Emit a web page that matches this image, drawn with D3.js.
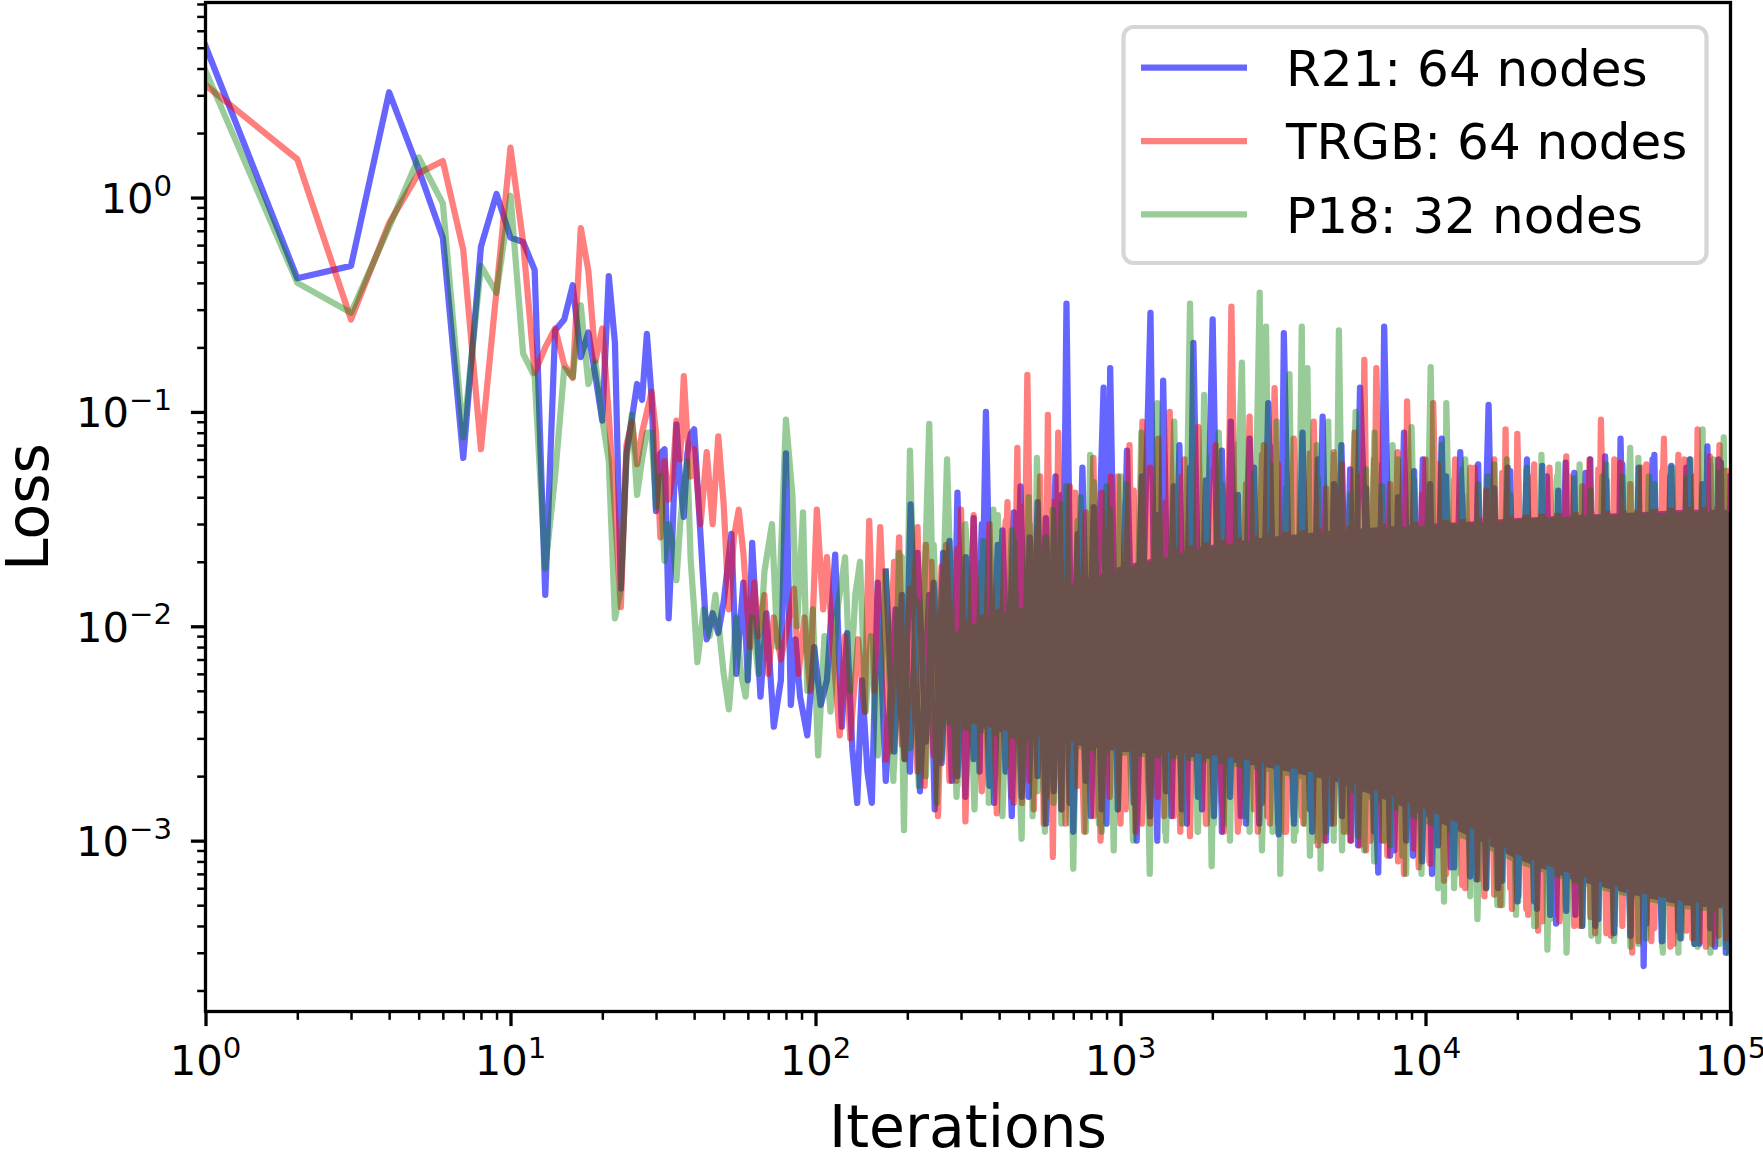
<!DOCTYPE html>
<html>
<head>
<meta charset="utf-8">
<script src="https://cdn.jsdelivr.net/npm/d3@7"></script>
<style>
  body { margin: 0; background: #fff; }
  text { font-family: 'DejaVu Sans', sans-serif; fill: #000; }
</style>
</head>
<body>
<div class="canvas"></div>
<script>
// ---- data ----
const earlyIter = [1, 2, 3, 4, 5, 6, 7, 8, 9, 10, 11, 12, 13, 14, 15, 16, 17, 18, 19, 20,
  21, 22, 23, 24, 25, 26, 27, 28, 29, 30, 31, 32, 33, 34, 35, 36, 37, 38, 39, 40];

const r21Loss = [5.1, 0.42, 0.48, 3.1, 1.35, 0.65, 0.061, 0.59, 1.04, 0.65,
  0.62, 0.46, 0.014, 0.24, 0.27, 0.39, 0.18, 0.235, 0.146, 0.091,
  0.43, 0.21, 0.015, 0.064, 0.093, 0.135, 0.114, 0.231, 0.119, 0.0345,
  0.064, 0.067, 0.0109, 0.028, 0.0875, 0.048, 0.0324, 0.064, 0.079, 0.083];
const trgbLoss = [3.35, 1.51, 0.27, 0.76, 1.3, 1.48, 0.57, 0.067, 0.37, 1.71,
  0.62, 0.152, 0.2, 0.245, 0.166, 0.144, 0.72, 0.456, 0.173, 0.245,
  0.097, 0.0345, 0.0123, 0.07, 0.09, 0.057, 0.08, 0.1, 0.124, 0.08,
  0.026, 0.059, 0.039, 0.05, 0.091, 0.06, 0.147, 0.076, 0.05, 0.067];
const p18Loss = [3.9, 0.40, 0.29, 0.73, 1.54, 0.94, 0.076, 0.48, 0.36, 1.02,
  0.187, 0.146, 0.0186, 0.05, 0.159, 0.146, 0.314, 0.135, 0.17, 0.093,
  0.059, 0.0109, 0.015, 0.06, 0.097, 0.041, 0.06, 0.08, 0.08, 0.036,
  0.05, 0.0202, 0.03, 0.025, 0.0164, 0.03, 0.045, 0.059, 0.02, 0.012];

// 40 -> 150 iterations, lines still separate
const r21TailIter = [44, 46, 48, 50, 53, 55, 58, 60, 62, 66,
  69, 73, 77, 80, 83, 86, 89, 94, 99, 104,
  109, 116, 122, 127, 132, 137, 142, 148, 153];
const r21TailLoss = [0.0087, 0.0115, 0.0093, 0.013, 0.027, 0.006, 0.016, 0.0056, 0.0245, 0.0047,
  0.0115, 0.0034, 0.0056, 0.064, 0.0043, 0.0087, 0.0047, 0.0031, 0.008, 0.0043,
  0.0056, 0.0216, 0.0034, 0.0093, 0.0027, 0.0015, 0.0056, 0.0021, 0.0015];
const trgbTailIter = [42, 44, 46, 48, 50, 52, 54, 56, 58, 61,
  63, 65, 68, 70, 73, 77, 81, 85, 88, 92,
  96, 101, 106, 109, 114, 120, 125, 130, 138, 145,
  150, 156];
const trgbTailLoss = [0.03, 0.065, 0.03, 0.077, 0.037, 0.012, 0.026, 0.035, 0.022, 0.008,
  0.016, 0.009, 0.014, 0.006, 0.011, 0.007, 0.01, 0.015, 0.006, 0.011,
  0.005, 0.035, 0.012, 0.021, 0.008, 0.0031, 0.009, 0.003, 0.0087, 0.004,
  0.031, 0.005];
const p18TailIter = [41, 43, 45, 47, 50, 52, 55, 57, 59, 62,
  65, 68, 72, 75, 80, 84, 87, 91, 94, 98,
  102, 107, 112, 118, 125, 130, 135, 140, 146, 152];
const p18TailLoss = [0.0068, 0.012, 0.009, 0.014, 0.006, 0.0041, 0.011, 0.006, 0.0047, 0.011,
  0.006, 0.018, 0.030, 0.008, 0.092, 0.041, 0.01, 0.034, 0.005, 0.012,
  0.0025, 0.009, 0.004, 0.012, 0.021, 0.005, 0.014, 0.02, 0.004, 0.009];

// dense part: the big spike tips (high / low)
const r21DenseIter = [160, 170, 183, 196, 205, 220, 236, 246, 262, 280,
  292, 310, 330, 345, 362, 385, 410, 440, 470, 500,
  535, 570, 612, 640, 665, 700, 750, 800, 880, 900,
  925, 980, 1050, 1130, 1254, 1320, 1380, 1470, 1560, 1650,
  1734, 1850, 2005, 2150, 2300, 2480, 2650, 2850, 3050, 3300,
  3432, 3700, 3950, 4250, 4600, 4900, 5300, 5700, 6100, 7000,
  7320, 7900, 8500, 9100, 9800, 10500, 11300, 12100, 13000, 14700,
  16100, 17300, 18600, 20000, 21500, 23200, 25000, 26800, 28800, 31000,
  33500, 36000, 38800, 41500, 43600, 47000, 50000, 51900, 55500, 59500,
  64000, 68500, 73500, 79000, 84000, 89000, 93000, 96500, 100000];
const r21DenseLoss = [0.016, 0.0019, 0.012, 0.0024, 0.037, 0.0017, 0.014, 0.0014, 0.022, 0.0019,
  0.042, 0.0016, 0.032, 0.0021, 0.10, 0.0015, 0.028, 0.0013, 0.045, 0.0016,
  0.038, 0.0012, 0.05, 0.0014, 0.32, 0.0011, 0.055, 0.0013, 0.13, 0.0012,
  0.16, 0.0014, 0.066, 0.001, 0.29, 0.001, 0.14, 0.0013, 0.07, 0.0012,
  0.21, 0.0014, 0.27, 0.0011, 0.09, 0.0013, 0.075, 0.0012, 0.11, 0.00107,
  0.233, 0.0013, 0.08, 0.0011, 0.095, 0.0012, 0.07, 0.001, 0.13, 0.00071,
  0.25, 0.0009, 0.08, 0.00085, 0.06, 0.0007, 0.075, 0.00075, 0.065, 0.00066,
  0.108, 0.0006, 0.055, 0.00052, 0.06, 0.00048, 0.05, 0.00041, 0.058, 0.00045,
  0.052, 0.0004, 0.062, 0.00037, 0.075, 0.00036, 0.055, 0.00026, 0.06, 0.00034,
  0.056, 0.00035, 0.06, 0.00033, 0.069, 0.00032, 0.058, 0.0003, 0.05];

const trgbDenseIter = [163, 175, 188, 196, 216, 228, 240, 252, 268, 290,
  300, 310, 330, 352, 372, 393, 426, 440, 459, 475,
  495, 520, 545, 560, 578, 600, 625, 660, 710, 760,
  815, 860, 930, 1000, 1070, 1120, 1180, 1250, 1330, 1390,
  1450, 1570, 1620, 1690, 1800, 1920, 2050, 2180, 2310, 2450,
  2650, 2820, 2950, 3030, 3200, 3450, 3700, 3980, 4300, 4650,
  5000, 5400, 5850, 6100, 6300, 6600, 6900, 7500, 8100, 8500,
  8700, 9500, 10000, 10300, 10600, 11500, 12500, 13500, 14500, 15600,
  16800, 17600, 18300, 19200, 20000, 21700, 22500, 23400, 25500, 27500,
  29500, 32000, 34500, 36000, 37600, 40500, 43500, 47600, 51000, 55000,
  60500, 65000, 70500, 75000, 78000, 83000, 85500, 87000, 92000, 97000,
  99500];
const trgbDenseLoss = [0.029, 0.0026, 0.026, 0.0024, 0.029, 0.0018, 0.02, 0.0013, 0.024, 0.0019,
  0.035, 0.00123, 0.026, 0.0018, 0.03, 0.00134, 0.038, 0.0016, 0.068, 0.0015,
  0.149, 0.0014, 0.05, 0.0012, 0.097, 0.00084, 0.08, 0.0012, 0.042, 0.0011,
  0.061, 0.001, 0.05, 0.0012, 0.07, 0.0011, 0.09, 0.0012, 0.075, 0.0013,
  0.10, 0.0011, 0.06, 0.00105, 0.085, 0.0012, 0.07, 0.0011, 0.31, 0.0012,
  0.095, 0.0011, 0.07, 0.0013, 0.129, 0.0011, 0.075, 0.0012, 0.09, 0.001,
  0.065, 0.0011, 0.08, 0.00095, 0.175, 0.001, 0.16, 0.00085, 0.065, 0.0007,
  0.112, 0.00075, 0.06, 0.0008, 0.11, 0.00065, 0.06, 0.0006, 0.055, 0.00055,
  0.06, 0.0005, 0.083, 0.00048, 0.079, 0.00045, 0.05, 0.00038, 0.055, 0.00042,
  0.05, 0.0004, 0.06, 0.00037, 0.092, 0.00036, 0.058, 0.0003, 0.055, 0.00034,
  0.075, 0.00033, 0.06, 0.00035, 0.083, 0.00032, 0.062, 0.00033, 0.07, 0.00035,
  0.052];

const p18DenseIter = [160, 170, 180, 188, 195, 204, 218, 236, 250, 270,
  290, 310, 332, 355, 370, 383, 410, 440, 474, 500,
  515, 532, 565, 600, 640, 665, 700, 740, 770, 795,
  850, 900, 950, 1000, 1100, 1170, 1247, 1320, 1400, 1500,
  1590, 1690, 1790, 1880, 1990, 2100, 2240, 2500, 2650, 2860,
  2930, 3000, 3150, 3250, 3340, 3580, 3750, 3930, 4020, 4100,
  4300, 4400, 4530, 4800, 5000, 5200, 5500, 5900, 6300, 6800,
  7300, 7800, 8400, 9000, 9700, 10400, 11000, 11300, 11500, 11700,
  12600, 13500, 14800, 16000, 17200, 18500, 19800, 21500, 23000, 24000,
  25100, 27000, 29000, 32000, 35000, 38000, 41500, 46900, 50000, 54000,
  60000, 64500, 69000, 74000, 78000, 81000, 86000, 88000, 92000, 95000,
  99000];
const p18DenseLoss = [0.0025, 0.018, 0.0019, 0.022, 0.00112, 0.066, 0.0018, 0.088, 0.0015, 0.06,
  0.0016, 0.03, 0.0014, 0.025, 0.0015, 0.035, 0.0013, 0.028, 0.00102, 0.04,
  0.0013, 0.061, 0.0011, 0.035, 0.0012, 0.045, 0.00074, 0.04, 0.0011, 0.063,
  0.0012, 0.045, 0.0009, 0.05, 0.001, 0.08, 0.0007, 0.11, 0.0011, 0.09,
  0.0012, 0.32, 0.0011, 0.12, 0.00076, 0.08, 0.0012, 0.17, 0.0011, 0.36,
  0.0013, 0.25, 0.0011, 0.09, 0.0007, 0.15, 0.0011, 0.25, 0.0012, 0.16,
  0.001, 0.07, 0.00074, 0.09, 0.001, 0.24, 0.0011, 0.1, 0.0009, 0.08,
  0.001, 0.07, 0.00085, 0.085, 0.0007, 0.162, 0.0006, 0.07, 0.00052, 0.11,
  0.0007, 0.06, 0.00043, 0.05, 0.0005, 0.06, 0.00045, 0.055, 0.0004, 0.063,
  0.00031, 0.05, 0.0003, 0.057, 0.00036, 0.05, 0.00034, 0.068, 0.00033, 0.05,
  0.0003, 0.055, 0.00035, 0.06, 0.00032, 0.083, 0.00034, 0.06, 0.00033, 0.076,
  0.0003];

// dense part: the many smaller swings that make the ragged edge of the band
const minorIter = [170, 181, 192, 204, 216, 230, 244, 259, 275, 292,
  311, 330, 351, 372, 396, 420, 447, 474, 504, 535,
  569, 604, 642, 682, 724, 769, 817, 868, 922, 980,
  1040, 1105, 1175, 1250, 1325, 1410, 1495, 1590, 1690, 1795,
  1905, 2025, 2150, 2285, 2425, 2580, 2740, 2910, 3090, 3285,
  3490, 3705, 3935, 4180, 4440, 4720, 5010, 5325, 5660, 6010,
  6385, 6785, 7205, 7655, 8130, 8640, 9175, 9750, 10350, 11000,
  11690, 12410, 13190, 14010, 14880, 15810, 16800, 17840, 18950, 20140,
  21390, 22720, 24140, 25640, 27240, 28940, 30740, 32660, 34700, 36860,
  39160, 41600, 44190, 46940, 49870, 52970, 56280, 59780, 63510, 67470,
  71670, 76140, 80880, 85920, 91280, 96970];
const r21MinorLoss = [0.018, 0.0026, 0.014, 0.0021, 0.022, 0.0029, 0.016, 0.0023, 0.025, 0.002,
  0.021, 0.0024, 0.03, 0.0018, 0.024, 0.0021, 0.034, 0.0016, 0.026, 0.002,
  0.032, 0.0017, 0.041, 0.0015, 0.027, 0.0019, 0.036, 0.0014, 0.044, 0.0018,
  0.038, 0.0015, 0.05, 0.0013, 0.033, 0.0017, 0.045, 0.0014, 0.055, 0.0016,
  0.048, 0.0013, 0.066, 0.0016, 0.041, 0.0012, 0.055, 0.0015, 0.069, 0.0012,
  0.052, 0.0012, 0.039, 0.0014, 0.06, 0.001, 0.046, 0.0013, 0.054, 0.00095,
  0.044, 0.0011, 0.057, 0.00085, 0.04, 0.001, 0.053, 0.0008, 0.046, 0.00095,
  0.05, 0.00075, 0.041, 0.00068, 0.057, 0.0006, 0.044, 0.00065, 0.053, 0.00055,
  0.046, 0.00052, 0.056, 0.00045, 0.043, 0.00047, 0.052, 0.0004, 0.06, 0.00043,
  0.048, 0.0004, 0.057, 0.00036, 0.044, 0.00041, 0.063, 0.00034, 0.05, 0.00038,
  0.055, 0.00033, 0.046, 0.00039, 0.06, 0.00035];
const trgbMinorLoss = [0.0024, 0.02, 0.0028, 0.015, 0.0021, 0.024, 0.0025, 0.019, 0.0019, 0.023,
  0.0022, 0.033, 0.0017, 0.026, 0.0023, 0.031, 0.0015, 0.036, 0.0019, 0.029,
  0.0016, 0.038, 0.0014, 0.045, 0.0018, 0.034, 0.0013, 0.042, 0.0016, 0.05,
  0.0014, 0.043, 0.0012, 0.055, 0.0016, 0.038, 0.0013, 0.05, 0.0015, 0.06,
  0.0012, 0.054, 0.0015, 0.074, 0.0011, 0.046, 0.0014, 0.063, 0.0012, 0.057,
  0.0011, 0.048, 0.0013, 0.064, 0.00095, 0.044, 0.0012, 0.057, 0.001, 0.05,
  0.0009, 0.06, 0.001, 0.046, 0.0008, 0.055, 0.00092, 0.041, 0.00078, 0.057,
  0.0007, 0.048, 0.00062, 0.055, 0.00066, 0.043, 0.00056, 0.052, 0.0006, 0.046,
  0.00048, 0.057, 0.00042, 0.048, 0.00045, 0.062, 0.0004, 0.045, 0.00044, 0.054,
  0.00037, 0.06, 0.0004, 0.046, 0.00034, 0.057, 0.00039, 0.053, 0.00032, 0.063,
  0.00038, 0.05, 0.00034, 0.057, 0.00036, 0.053];
const p18MinorLoss = [0.015, 0.0022, 0.021, 0.0027, 0.013, 0.002, 0.024, 0.0024, 0.017, 0.0018,
  0.028, 0.0021, 0.02, 0.0016, 0.033, 0.0022, 0.025, 0.0014, 0.03, 0.0017,
  0.026, 0.0015, 0.037, 0.0012, 0.031, 0.0017, 0.047, 0.0011, 0.035, 0.0014,
  0.046, 0.0012, 0.036, 0.0015, 0.052, 0.001, 0.04, 0.0013, 0.047, 0.0011,
  0.062, 0.0012, 0.046, 0.001, 0.071, 0.0013, 0.052, 0.0009, 0.057, 0.0011,
  0.044, 0.001, 0.057, 0.00085, 0.049, 0.0011, 0.063, 0.0009, 0.041, 0.00105,
  0.054, 0.0008, 0.045, 0.00095, 0.06, 0.0007, 0.048, 0.00085, 0.055, 0.00068,
  0.044, 0.0006, 0.054, 0.00055, 0.046, 0.0006, 0.057, 0.0005, 0.041, 0.00052,
  0.053, 0.0004, 0.044, 0.00043, 0.057, 0.00036, 0.049, 0.0004, 0.043, 0.00034,
  0.057, 0.00036, 0.05, 0.00032, 0.061, 0.00035, 0.046, 0.00032, 0.055, 0.0003,
  0.049, 0.00033, 0.063, 0.0003, 0.052, 0.00032];

// solid core of the noisy part (lower / upper bound)
const bandIter = [250, 300, 500, 700, 1000, 1500, 2000, 3000, 5000, 7000,
  10000, 15000, 20000, 30000, 50000, 70000, 100000];
const r21BandHi = [0.008, 0.01, 0.013, 0.016, 0.019, 0.022, 0.024, 0.026, 0.028, 0.029,
  0.03, 0.031, 0.032, 0.033, 0.034, 0.035, 0.035];
const r21BandLo = [0.0038, 0.0035, 0.003, 0.0028, 0.0026, 0.0025, 0.0024, 0.0022, 0.0019, 0.0016,
  0.0013, 0.001, 0.00082, 0.00066, 0.00055, 0.0005, 0.00048];
const trgbBandHi = [0.0085, 0.0105, 0.0135, 0.017, 0.02, 0.023, 0.025, 0.027, 0.029, 0.03,
  0.031, 0.032, 0.033, 0.034, 0.035, 0.036, 0.036];
const trgbBandLo = [0.004, 0.0036, 0.0031, 0.0029, 0.0027, 0.0026, 0.0025, 0.0023, 0.002, 0.0017,
  0.0014, 0.0011, 0.00086, 0.0007, 0.00057, 0.00052, 0.0005];
const p18BandHi = [0.0078, 0.0098, 0.0125, 0.0155, 0.0185, 0.0215, 0.0235, 0.0255, 0.0275, 0.0285,
  0.0295, 0.0305, 0.0315, 0.0325, 0.0335, 0.034, 0.034];
const p18BandLo = [0.0036, 0.0033, 0.0029, 0.0027, 0.0025, 0.0024, 0.0023, 0.0021, 0.0018, 0.0015,
  0.0012, 0.00095, 0.00078, 0.00064, 0.00053, 0.00048, 0.00046];

const labels = ['R21: 64 nodes', 'TRGB: 64 nodes', 'P18: 32 nodes'];
const xMajor = [1, 10, 100, 1000, 10000, 100000];
const yMajor = [0.001, 0.01, 0.1, 1];

// ---- layout ----
const margin = { top: 2.5, left: 205.5 };
const graphWidth = 1525;
const graphHeight = 1009;

const svg = d3.select('.canvas')
  .append('svg')
  .attr('width', 1763)
  .attr('height', 1152);

const graph = svg.append('g')
  .attr('transform', `translate(${margin.left}, ${margin.top})`);

const x = d3.scaleLog().domain([1, 1e5]).range([0, graphWidth]);
const y = d3.scaleLog().domain([Math.pow(10, -3.797), Math.pow(10, 0.91)]).range([graphHeight, 0]);

svg.append('defs').append('clipPath').attr('id', 'plot-clip')
  .append('rect').attr('width', graphWidth).attr('height', graphHeight);

const series = [
  { label: labels[0], color: '#0000ff', alpha: 0.6, early: r21Loss,
    tailIter: r21TailIter, tailLoss: r21TailLoss, denseIter: r21DenseIter, denseLoss: r21DenseLoss,
    minor: r21MinorLoss, lo: r21BandLo, hi: r21BandHi },
  { label: labels[1], color: '#ff0000', alpha: 0.5, early: trgbLoss,
    tailIter: trgbTailIter, tailLoss: trgbTailLoss, denseIter: trgbDenseIter, denseLoss: trgbDenseLoss,
    minor: trgbMinorLoss, lo: trgbBandLo, hi: trgbBandHi },
  { label: labels[2], color: '#008000', alpha: 0.4, early: p18Loss,
    tailIter: p18TailIter, tailLoss: p18TailLoss, denseIter: p18DenseIter, denseLoss: p18DenseLoss,
    minor: p18MinorLoss, lo: p18BandLo, hi: p18BandHi }
];

const line = d3.line()
  .x(d => x(d[0]))
  .y(d => y(d[1]));

const area = d3.area()
  .x(d => x(d[0]))
  .y0(d => y(d[1]))
  .y1(d => y(d[2]));

const plot = graph.append('g').attr('clip-path', 'url(#plot-clip)');

series.forEach(s => {
  const pts = d3.zip(earlyIter, s.early)
    .concat(d3.zip(s.tailIter, s.tailLoss))
    .concat(d3.zip(s.denseIter, s.denseLoss));
  const swings = d3.zip(minorIter, s.minor);
  const band = d3.zip(bandIter, s.lo, s.hi);

  // group opacity, so overlaps of one series don't darken themselves
  const g = plot.append('g').attr('opacity', s.alpha);
  g.append('path')
    .attr('d', area(band))
    .attr('fill', s.color);
  [swings, pts].forEach(p => {
    g.append('path')
      .attr('d', line(p))
      .attr('fill', 'none')
      .attr('stroke', s.color)
      .attr('stroke-width', 6.25)
      .attr('stroke-linejoin', 'round')
      .attr('stroke-linecap', 'square');
  });
});

// ---- axes ----
const xMinor = [];
const yMinor = [];
for (let k = 0; k < 5; k++) for (let m = 2; m <= 9; m++) xMinor.push(m * Math.pow(10, k));
for (let k = -4; k <= 0; k++) for (let m = 2; m <= 9; m++) {
  const v = m * Math.pow(10, k);
  if (v > y.domain()[0] && v < y.domain()[1]) yMinor.push(v);
}

const styleTicks = (g, w) => {
  g.select('.domain').remove();
  g.selectAll('.tick line').attr('stroke', '#000').attr('stroke-width', w);
  g.selectAll('.tick text').remove();
};

graph.append('g')
  .attr('transform', `translate(0, ${graphHeight})`)
  .call(d3.axisBottom(x).tickValues(xMinor).tickSize(8.3).tickSizeOuter(0))
  .call(g => styleTicks(g, 2.5));
graph.append('g')
  .attr('transform', `translate(0, ${graphHeight})`)
  .call(d3.axisBottom(x).tickValues(xMajor).tickSize(14.6).tickSizeOuter(0))
  .call(g => styleTicks(g, 3.3));
graph.append('g')
  .call(d3.axisLeft(y).tickValues(yMinor).tickSize(8.3).tickSizeOuter(0))
  .call(g => styleTicks(g, 2.5));
graph.append('g')
  .call(d3.axisLeft(y).tickValues(yMajor).tickSize(14.6).tickSizeOuter(0))
  .call(g => styleTicks(g, 3.3));

const expText = v => {
  const e = Math.round(Math.log10(v));
  return e < 0 ? '\u2212' + Math.abs(e) : String(e);
};

const powLabel = (sel) => {
  sel.append('tspan').text('10');
  sel.append('tspan')
    .attr('dy', -17.3)
    .attr('font-size', 29.2)
    .text(d => expText(d));
};

graph.selectAll('.xlab')
  .data(xMajor)
  .enter()
  .append('text')
  .attr('class', 'xlab')
  .attr('x', d => x(d))
  .attr('y', graphHeight + 63.5)
  .attr('text-anchor', 'middle')
  .attr('font-size', 41.7)
  .call(powLabel);

graph.selectAll('.ylab')
  .data(yMajor)
  .enter()
  .append('text')
  .attr('class', 'ylab')
  .attr('x', -33.5)
  .attr('y', d => y(d) + 15.5)
  .attr('text-anchor', 'end')
  .attr('font-size', 41.7)
  .call(powLabel);

// spines
graph.append('rect')
  .attr('width', graphWidth)
  .attr('height', graphHeight)
  .attr('fill', 'none')
  .attr('stroke', '#000')
  .attr('stroke-width', 3.3);

// axis titles
svg.append('text')
  .attr('x', margin.left + graphWidth / 2)
  .attr('y', 1147)
  .attr('text-anchor', 'middle')
  .attr('font-size', 58.4)
  .text('Iterations');

svg.append('text')
  .attr('transform', `translate(48, ${margin.top + graphHeight / 2}) rotate(-90)`)
  .attr('text-anchor', 'middle')
  .attr('font-size', 58.4)
  .text('Loss');

// ---- legend ----
const legend = svg.append('g');
legend.append('rect')
  .attr('x', 1123.5)
  .attr('y', 27)
  .attr('width', 583)
  .attr('height', 236)
  .attr('rx', 10)
  .attr('fill', '#fff')
  .attr('fill-opacity', 0.8)
  .attr('stroke', '#cccccc')
  .attr('stroke-opacity', 0.8)
  .attr('stroke-width', 4.2);

const rows = legend.selectAll('.row')
  .data(series)
  .enter()
  .append('g')
  .attr('class', 'row')
  .attr('transform', (d, i) => `translate(0, ${i * 73.3})`);

rows.append('line')
  .attr('x1', 1141)
  .attr('x2', 1247)
  .attr('y1', 67.7)
  .attr('y2', 67.7)
  .attr('stroke', d => d.color)
  .attr('stroke-opacity', d => d.alpha)
  .attr('stroke-width', 6.25);

rows.append('text')
  .attr('x', 1286)
  .attr('y', 86)
  .attr('font-size', 50)
  .text(d => d.label);
</script>
</body>
</html>
